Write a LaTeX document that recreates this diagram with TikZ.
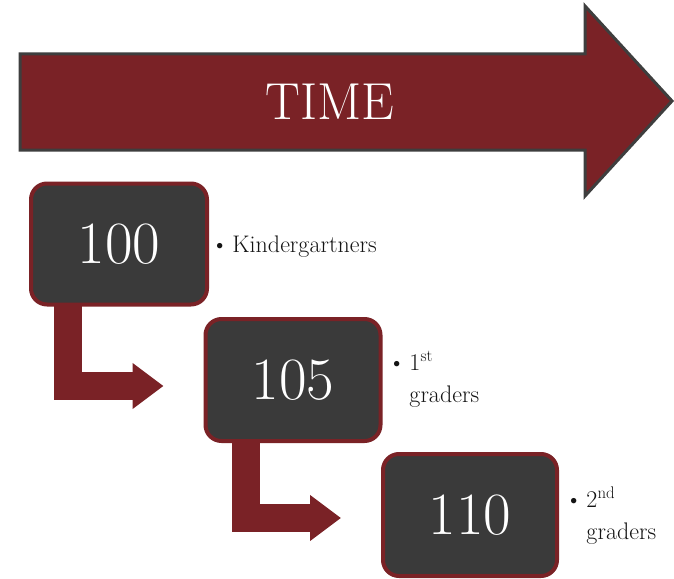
\documentclass[tikz,border=0pt]{standalone}
\usepackage{fontspec}
\usetikzlibrary{arrows.meta}
\definecolor{maroon}{HTML}{7A2226}
\definecolor{boxgray}{HTML}{3A3A3A}
\definecolor{edgegray}{HTML}{3E3E3E}
\definecolor{labelgray}{HTML}{141414}
\tikzset{
  numbox/.style={draw=maroon, line width=4pt, fill=boxgray, rounded corners=16pt,
    text=white, font=\fontsize{60}{60}\selectfont, inner sep=0pt},
  bentarrow/.style={draw=maroon, line width=28pt, line join=miter, line cap=butt,
    -{Triangle[width=44pt,length=31pt]}, shorten >=40pt},
  glabel/.style={anchor=west, text=labelgray, inner sep=0pt, align=left,
    font=\fontsize{24}{32}\selectfont},
}
\begin{document}
\begin{tikzpicture}[x=1pt,y=-1pt]
\useasboundingbox (0,0) rectangle (674,578);
% big TIME arrow
\fill[maroon, draw=edgegray, line width=3pt, line join=miter]
  (20,54) -- (585,54) -- (585,6) -- (672,101) -- (585,196) -- (585,150) -- (20,150) -- cycle;
\node[text=white, font=\fontsize{52}{52}\selectfont] (time) at (330,102) {TIME};
% boxes
\node[numbox, minimum width=176pt, minimum height=121pt] (b100) at (119,244) {100};
\node[numbox, minimum width=175pt, minimum height=122pt] (b105) at (293,380) {105};
\node[numbox, minimum width=174pt, minimum height=122pt] (b110) at (470,515) {110};
% bent connectors
\draw[bentarrow] ([xshift=-51pt,yshift=2pt]b100.south) |- ([yshift=-6pt]b105.west);
\draw[bentarrow] ([xshift=-47pt,yshift=2pt]b105.south) |- ([yshift=-3pt]b110.west);
% labels
\node[glabel] (l100) at (211,247) {\textbullet\,Kindergartners};
\node[glabel, anchor=north west] (l105) at (388,348)
  {\begin{tabular}{@{}l@{\,}l@{}}\textbullet & 1\textsuperscript{st}\\ & graders\end{tabular}};
\node[glabel, anchor=north west] (l110) at (565,485)
  {\begin{tabular}{@{}l@{\,}l@{}}\textbullet & 2\textsuperscript{nd}\\ & graders\end{tabular}};
\end{tikzpicture}
\end{document}
